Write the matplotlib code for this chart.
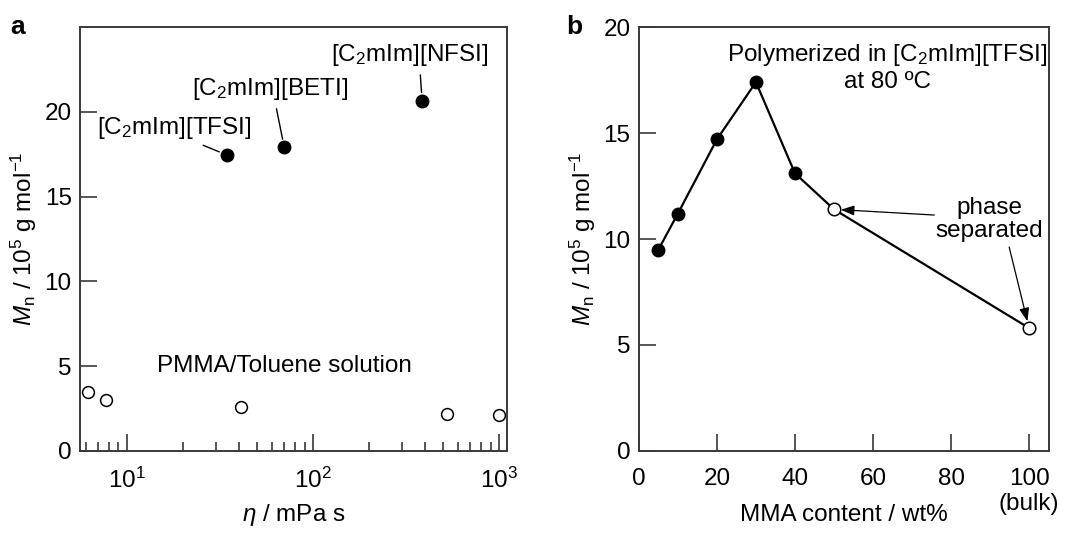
import matplotlib
matplotlib.use('Agg')
import matplotlib.pyplot as plt
from matplotlib.ticker import LogLocator, NullFormatter

plt.rcParams['font.family'] = ['Liberation Sans', 'DejaVu Sans']
plt.rcParams['mathtext.fontset'] = 'custom'
plt.rcParams['mathtext.rm'] = 'Liberation Sans'
plt.rcParams['mathtext.it'] = 'Liberation Sans:italic'
plt.rcParams['mathtext.bf'] = 'Liberation Sans:bold'

# --- panel a data ---
il_names = ['[C$_2$mIm][TFSI]', '[C$_2$mIm][BETI]', '[C$_2$mIm][NFSI]']
il_visc = [34.5, 70, 385]
il_mn = [17.45, 17.9, 20.65]
tol_visc = [6.2, 7.7, 41, 524, 1000]
tol_mn = [3.45, 3.0, 2.6, 2.2, 2.15]

# --- panel b data ---
mma_solid = [5, 10, 20, 30, 40]
mn_solid = [9.5, 11.2, 14.7, 17.4, 13.1]
mma_open = [50, 100]
mn_open = [11.4, 5.8]

FS = 17.5
SPINE = '#3a3a3a'

fig = plt.figure(figsize=(10.81, 5.36), dpi=100)
ax1 = fig.add_axes([0.074, 0.1586, 0.395, 0.791])
ax2 = fig.add_axes([0.591, 0.1586, 0.379, 0.791])

ylab = r'$M_\mathrm{n}$ / 10$^{5}$ g mol$^{-1}$'

for ax in (ax1, ax2):
    for s in ax.spines.values():
        s.set_linewidth(1.4)
        s.set_color(SPINE)
    ax.tick_params(which='both', direction='in', top=False, right=False,
                   color=SPINE, width=1.2, labelsize=FS)
    ax.tick_params(which='major', length=12.5)
    ax.tick_params(axis='y', pad=6)
    ax.tick_params(axis='x', pad=12)
    ax.set_ylabel(ylab, fontsize=FS, labelpad=4)

# panel a
ax1.set_xscale('log')
ax1.set_xlim(5.6, 1100)
ax1.set_ylim(0, 25)
ax1.set_yticks([0, 5, 10, 15, 20])
ax1.xaxis.set_minor_locator(LogLocator(base=10, subs=range(2, 10)))
ax1.xaxis.set_minor_formatter(NullFormatter())
ax1.tick_params(which='minor', length=6.5, width=1.2)
ax1.plot(il_visc, il_mn, 'o', ms=9, color='black', clip_on=False)
ax1.plot(tol_visc, tol_mn, 'o', ms=8.5, mfc='white', mec='black', mew=1.1, clip_on=False)

txt_pos = [(17.9, 19.05), (59, 21.35), (330, 23.35)]
rel = [(0.62, 0), (0.53, 0), (0.565, 0)]
for name, x, y, tp, rp in zip(il_names, il_visc, il_mn, txt_pos, rel):
    ax1.annotate(name, xy=(x, y), xytext=tp, fontsize=FS, ha='center', va='center',
                 arrowprops=dict(arrowstyle='-', color='black', lw=1.0,
                                 relpos=rp, shrinkA=3, shrinkB=6))
ax1.text(70.6, 5.0, 'PMMA/Toluene solution', fontsize=FS, ha='center', va='center')
ax1.set_xlabel(r'$\it{\eta}$ / mPa s', fontsize=FS)
ax1.xaxis.set_label_coords(0.5, -0.12)

# panel b
ax2.set_xlim(0, 105)
ax2.set_ylim(0, 20)
ax2.set_yticks([0, 5, 10, 15, 20])
ax2.set_xticks([0, 20, 40, 60, 80, 100])
ax2.set_xticklabels(['0', '20', '40', '60', '80', '100\n(bulk)'])
ax2.plot(mma_solid + mma_open, mn_solid + mn_open, '-', color='black', lw=1.6, zorder=2)
ax2.plot(mma_solid, mn_solid, 'o', ms=9, color='black', zorder=3)
ax2.plot(mma_open, mn_open, 'o', ms=9, mfc='white', mec='black', mew=1.1, zorder=3)
ax2.text(63.7, 18.1, 'Polymerized in [C$_2$mIm][TFSI]\nat 80 ºC', fontsize=FS,
         ha='center', va='center', multialignment='center', linespacing=1.2)
ax2.text(89.8, 10.9, 'phase\nseparated', fontsize=FS, ha='center', va='center',
         multialignment='center', linespacing=1.05)
for (x, y), start in zip(zip(mma_open, mn_open), [(75.7, 11.13), (94.9, 9.62)]):
    ax2.annotate('', xy=(x, y), xytext=start,
                 arrowprops=dict(arrowstyle='-|>,head_length=0.8,head_width=0.3',
                                 color='black', lw=0.9, shrinkA=0, shrinkB=5))
ax2.set_xlabel('MMA content / wt%', fontsize=FS)
ax2.xaxis.set_label_coords(0.5, -0.125)

fig.text(0.0166, 0.95, 'a', fontsize=19, fontweight='bold', ha='center', va='center')
fig.text(0.531, 0.95, 'b', fontsize=19, fontweight='bold', ha='center', va='center')

fig.savefig('out.png', dpi=100)
